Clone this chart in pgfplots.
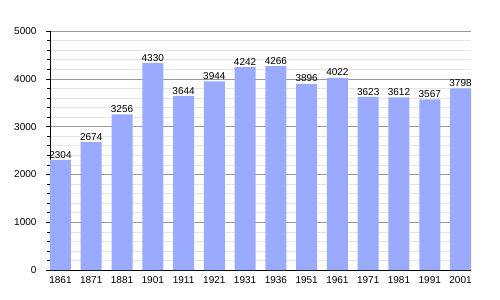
\documentclass[border=0pt]{standalone}
\usepackage{pgfplots}
\pgfplotsset{compat=1.18}
\usepackage{fontspec}
\setmainfont{Liberation Sans}
\definecolor{barblue}{HTML}{99AAFF}
\begin{document}
\fontsize{10bp}{12bp}\selectfont
\begin{tikzpicture}
\begin{axis}[
  scale only axis,
  width=421bp, height=239bp,
  ybar, bar width=21bp,
  xmin=-0.34, xmax=13.34,
  ymin=0, ymax=5000,
  xtick=data,
  xticklabels={1861,1871,1881,1901,1911,1921,1931,1936,1951,1961,1971,1981,1991,2001},
  x tick style={draw=none},
  ytick={0,1000,2000,3000,4000,5000},
  minor y tick num=4,
  ymajorgrids, yminorgrids,
  major grid style={draw=black!40, line width=0.6pt},
  minor grid style={draw=black!10, line width=0.5pt},
  axis x line*=bottom, axis y line*=left,
  axis line style={black, line width=0.8pt},
  y tick style={black, line width=0.5pt},
  tick align=outside,
  major tick length=4bp, minor tick length=2.5bp,
  /pgf/number format/1000 sep={},
  /pgf/number format/assume math mode=true,
  tick label style={font=\fontsize{10bp}{12bp}\selectfont},
  yticklabel style={xshift=-6bp},
  xticklabel style={yshift=1bp},
  nodes near coords,
  nodes near coords style={font=\fontsize{10bp}{12bp}\selectfont, /pgf/number format/1000 sep={}, /pgf/number format/assume math mode=true, inner sep=1.5pt},
  clip=false,
]
\addplot[fill=barblue, draw=none] coordinates {
(0,2304) (1,2674) (2,3256) (3,4330) (4,3644) (5,3944) (6,4242)
(7,4266) (8,3896) (9,4022) (10,3623) (11,3612) (12,3567) (13,3798)};
\end{axis}
\pgfresetboundingbox
\path (-50bp,-30bp) rectangle (450bp,270bp);
\end{tikzpicture}
\end{document}
